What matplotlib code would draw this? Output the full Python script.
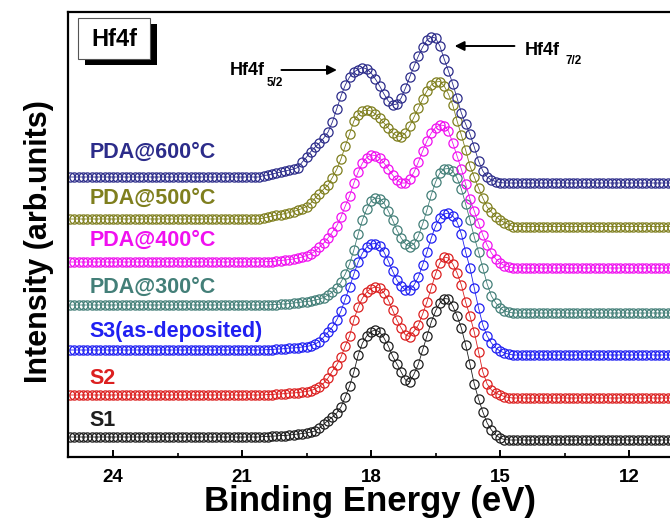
import numpy as np
import matplotlib
matplotlib.use("Agg")
import matplotlib.pyplot as plt
from matplotlib.patches import Rectangle

plt.rcParams['font.family'] = ['Liberation Sans', 'DejaVu Sans']
plt.rcParams['font.weight'] = 'bold'

# ---------------------------------------------------------------------
# DATA (stacked intensities, arb. units)
# ---------------------------------------------------------------------
# scan grid, 0.1 eV step
energy = np.round(np.arange(25.0, 10.95, -0.1), 1)

names = ["S1", "S2", "S3(as-deposited)", "PDA@300°C", "PDA@400°C",
         "PDA@500°C", "PDA@600°C"]
colors = ["#1e1e1e", "#dc2020", "#2020f2", "#437f78", "#f010f0",
          "#7f7f1e", "#2c2c8a"]

# flat background left of 20.5 eV and right of 14.8 eV
base_left = [20, 62, 107, 152, 195, 238, 280]
base_right = [17, 59, 102, 144, 189, 230.5, 274]

# peak region, 20.5 eV -> 14.8 eV
peak_s1 = [20.5, 20.5, 21, 21, 21.5,
           21.5, 22, 22.5, 23, 23.5, 24, 25, 26, 29, 33,
           36.5, 40, 44, 50, 60, 71, 85, 102, 114, 121,
           125.5, 127, 125, 119, 111, 101, 93, 85, 77, 75,
           83, 93, 107, 121, 135, 146, 154, 158.5, 158, 151,
           141, 129, 112, 93, 73, 58, 45, 34, 27, 22,
           19, 17.5, 17]
peak_s2 = [62, 62.5, 62.5, 63, 63,
           63.5, 64, 64, 64.5, 65, 65.5, 66.5, 68, 70.5, 74,
           79, 86, 92, 100, 111, 121, 137, 150, 159, 165,
           168.5, 170, 169, 164, 157, 147, 137, 129, 122, 120.5,
           126, 132, 143, 155, 169, 183, 194, 200, 199, 193,
           184, 172, 155, 141, 125, 105, 85, 73, 67, 64,
           62, 60.5, 59.5]
peak_s3 = [107, 107.5, 107.5, 108, 108,
           108.5, 109, 109, 109.5, 110, 110.5, 111.5, 113, 115.5, 120,
           125, 130, 137, 146, 158, 170, 183, 195, 204, 210,
           213, 213.5, 211, 205, 196, 186, 177, 171, 167, 167,
           172, 180, 192, 205, 219, 231, 239, 243, 244, 241,
           235, 223, 205, 189, 169, 149, 132, 121, 114, 109,
           106, 104, 103]
peak_300 = [152, 152, 152.5, 152.5, 153,
            153, 153.5, 154, 154.5, 155, 155.5, 156, 157, 158, 159.5,
            162, 165, 169, 175, 183, 193, 207, 223, 237, 248,
            256, 259, 258.5, 254, 246, 237, 227, 219, 213, 210.5,
            213, 221, 233, 247, 262, 275, 284, 288, 288.5, 286,
            279, 268, 253, 237, 220, 205, 189, 173, 161, 154,
            149, 146, 145]
peak_400 = [195, 195.5, 195.5, 196, 196.5,
            197, 197.5, 198, 199, 200, 201.5, 203, 206, 210, 214,
            219, 225, 231, 240, 251, 261, 274, 285, 294, 299.5,
            302, 301.5, 299, 294, 288, 282, 277, 274, 274, 278,
            285, 295, 306, 316, 324, 329.5, 332, 331.5, 326, 314,
            301, 288, 273, 258, 246, 234, 222, 212, 204, 198,
            194, 191.5, 190]
peak_500 = [239, 240, 241, 242, 242.5,
            243.5, 244.5, 245.5, 247, 248.5, 250.5, 254, 259, 263.5, 268,
            272, 279.5, 287.5, 298, 311, 323, 336, 342.5, 346, 347,
            346, 343, 339, 334, 329, 324, 321, 320.5, 324, 331,
            340, 349, 358, 366, 372, 375, 375.5, 371, 363, 352,
            336, 322, 307, 291, 280, 269, 259, 250, 245, 240.5,
            237, 234.5, 232.5]
peak_600 = [281.5, 282, 283, 284, 285,
            286, 287, 288, 289.5, 295, 300, 305.5, 310, 314, 319,
            325, 335, 348, 361, 372, 380, 385, 387.5, 389.5, 388,
            384, 378, 371, 363, 356, 352, 353, 359, 369, 380,
            391, 401, 410, 417, 420, 419, 411, 398, 386, 373,
            359, 344, 333, 323, 310, 296, 286, 280, 277, 275.5,
            274.5, 274, 274]
peaks = [peak_s1, peak_s2, peak_s3, peak_300, peak_400, peak_500, peak_600]

# label heights (same units)
label_y = [37, 79, 126, 170, 217, 259, 305]

# ---------------------------------------------------------------------
# PLOT
# ---------------------------------------------------------------------
fig = plt.figure(figsize=(6.7, 5.2), dpi=100)
ax = fig.add_axes([68 / 670, 63 / 520, 604 / 670, 445 / 520])

n_left = int(np.sum(energy > 20.55))
n_right = int(np.sum(energy < 14.75))

for name, col, bl, br, pk, ly in zip(names, colors, base_left, base_right,
                                     peaks, label_y):
    y = np.concatenate([np.full(n_left, bl), pk, np.full(n_right, br)])
    ax.plot(energy, y, '-o', color=col, lw=0.6, ms=6.6, mfc='none',
            mec=col, mew=0.9)
    ax.text(24.55, ly, name, color=col, fontsize=15.5, fontweight='bold',
            ha='left', va='center')

ax.set_xlim(25.05, 11.0)
ax.set_ylim(0, 445)
ax.set_xticks([24, 21, 18, 15, 12])
ax.set_xticks([22.5, 19.5, 16.5, 13.5], minor=True)
ax.set_yticks([])
ax.tick_params(axis='x', which='major', direction='in', length=5, width=1.4,
               labelsize=13.5, pad=9)
ax.tick_params(axis='x', which='minor', direction='in', length=3, width=1.2)
for lbl in ax.get_xticklabels():
    lbl.set_fontweight('bold')
for s in ['left', 'top', 'bottom']:
    ax.spines[s].set_linewidth(1.6)
ax.spines['right'].set_visible(False)

# peak annotations
ax.annotate('', xy=(18.73, 387), xytext=(20.15, 387),
            arrowprops=dict(arrowstyle='-|>', color='black', lw=1.4,
                            mutation_scale=14))
ax.text(20.47, 382, 'Hf4f', fontsize=13, fontweight='bold', ha='right',
        va='baseline')
ax.text(20.43, 371, '5/2', fontsize=8.5, fontweight='bold', ha='left',
        va='baseline')
ax.annotate('', xy=(16.12, 411), xytext=(14.6, 411),
            arrowprops=dict(arrowstyle='-|>', color='black', lw=1.4,
                            mutation_scale=14))
ax.text(14.43, 402, 'Hf4f', fontsize=13, fontweight='bold', ha='left',
        va='baseline')
ax.text(13.47, 393, '7/2', fontsize=8.5, fontweight='bold', ha='left',
        va='baseline')

# boxed "Hf4f" with drop shadow
W, H = 670, 520
fig.add_artist(Rectangle((85 / W, 1 - 65 / H), 72 / W, 41 / H,
                         transform=fig.transFigure, facecolor='black',
                         edgecolor='none', zorder=5))
fig.add_artist(Rectangle((78 / W, 1 - 59 / H), 72 / W, 41 / H,
                         transform=fig.transFigure, facecolor='white',
                         edgecolor='#555555', lw=0.8, zorder=6))
fig.text(114 / W, 1 - 39 / H, 'Hf4f', fontsize=17, fontweight='bold',
         ha='center', va='center', zorder=7)

fig.text(370 / W, 1 - 502 / H, 'Binding Energy (eV)', fontsize=25,
         fontweight='bold', ha='center', va='center')
fig.text(39 / W, 1 - 242 / H, 'Intensity (arb.units)', fontsize=22,
         fontweight='bold', ha='center', va='center', rotation=90)

fig.savefig('out.png', dpi=100)
